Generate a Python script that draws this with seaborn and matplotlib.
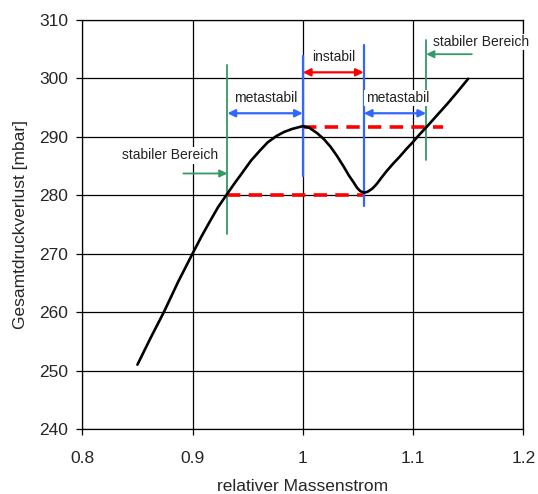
import matplotlib
matplotlib.use("Agg")
import matplotlib.pyplot as plt
import seaborn as sns
import pandas as pd

# --- data ---
mass_flow = [0.850, 0.862, 0.874, 0.887, 0.900, 0.908, 0.916, 0.923, 0.931,
             0.938, 0.945, 0.953, 0.961, 0.968, 0.976, 0.983, 0.990, 1.000,
             1.006, 1.013, 1.019, 1.025, 1.031, 1.037, 1.042, 1.046, 1.049,
             1.052, 1.0555, 1.059, 1.063, 1.067, 1.071, 1.076, 1.082, 1.088,
             1.094, 1.100, 1.106, 1.1125, 1.121, 1.131, 1.140, 1.150]
pressure_loss = [251.0, 255.6, 260.0, 265.2, 270.0, 272.9, 275.6, 277.9, 280.1,
                 282.0, 283.8, 285.9, 287.6, 289.0, 290.1, 290.8, 291.3, 291.8,
                 291.5, 290.6, 289.6, 288.3, 286.7, 284.9, 283.3, 282.2, 281.3,
                 280.7, 280.4, 280.6, 281.1, 281.9, 282.9, 284.1, 285.4, 286.6,
                 287.9, 289.1, 290.4, 291.7, 293.5, 295.6, 297.6, 299.9]

x_ticks = [0.8, 0.9, 1.0, 1.1, 1.2]
x_tick_labels = ["0.8", "0.9", "1", "1.1", "1.2"]
y_ticks = [240, 250, 260, 270, 280, 290, 300, 310]

# boundaries of the regions
x_stable_left = 0.9316
x_peak = 1.0
x_dip = 1.0553
x_stable_right = 1.1119
p_peak = 291.7
p_dip = 280.0
x_peak_level_end = 1.127

df = pd.DataFrame({"x": mass_flow, "y": pressure_loss})

sns.set_style("ticks")
plt.rcParams["font.family"] = ["Liberation Sans", "DejaVu Sans"]

fig, ax = plt.subplots(figsize=(5.38, 4.94), dpi=100)
fig.subplots_adjust(left=0.1530, right=0.9727, top=0.9601, bottom=0.1316)

ax.set_xlim(0.8, 1.2)
ax.set_ylim(240, 310)
ax.set_xticks(x_ticks)
ax.set_xticklabels(x_tick_labels)
ax.set_yticks(y_ticks)
ax.grid(True, color="black", lw=0.9)
ax.set_axisbelow(True)
for s in ax.spines.values():
    s.set_color("black")
    s.set_linewidth(0.9)
ax.tick_params(axis="both", labelsize=12.5, length=4, width=0.9, color="black", pad=6)
ax.tick_params(axis="x", pad=12)

blue = "#3366FF"
green = "#339966"
red = "#FF0000"

# red dashed level lines
ax.plot([x_peak, x_peak_level_end], [p_peak, p_peak], color=red, lw=2.6,
        dashes=(3.7, 2.3), zorder=3)
ax.plot([x_stable_left, x_dip], [p_dip, p_dip], color=red, lw=2.6,
        dashes=(3.7, 2.3), zorder=3)

# vertical marker lines
ax.plot([x_peak, x_peak], [283.2, 303.8], color=blue, lw=1.6, zorder=4)
ax.plot([x_dip, x_dip], [278.2, 305.6], color=blue, lw=1.6, zorder=4)
ax.plot([x_stable_left, x_stable_left], [273.4, 302.2], color=green, lw=1.3, zorder=4)
ax.plot([x_stable_right, x_stable_right], [286.0, 306.6], color=green, lw=1.3, zorder=4)

# curve
sns.lineplot(data=df, x="x", y="y", ax=ax, color="black", lw=1.9, sort=False,
             zorder=5)

# arrows
dbl = "<|-|>,head_length=0.45,head_width=0.22"
sgl = "-|>,head_length=0.45,head_width=0.22"
ax.annotate("", xy=(x_peak, 301.0), xytext=(x_dip, 301.0),
            arrowprops=dict(arrowstyle=dbl, color=red, lw=1.6, shrinkA=0, shrinkB=0))
ax.annotate("", xy=(x_stable_left, 294.0), xytext=(x_peak, 294.0),
            arrowprops=dict(arrowstyle=dbl, color=blue, lw=1.6, shrinkA=0, shrinkB=0))
ax.annotate("", xy=(x_dip, 294.0), xytext=(x_stable_right, 294.0),
            arrowprops=dict(arrowstyle=dbl, color=blue, lw=1.6, shrinkA=0, shrinkB=0))
ax.annotate("", xy=(x_stable_left, 283.7), xytext=(0.8917, 283.7),
            arrowprops=dict(arrowstyle=sgl, color=green, lw=1.3, shrinkA=0, shrinkB=0))
ax.annotate("", xy=(x_stable_right, 304.1), xytext=(1.1533, 304.1),
            arrowprops=dict(arrowstyle=sgl, color=green, lw=1.3, shrinkA=0, shrinkB=0))

# labels
box = dict(facecolor="white", edgecolor="none", pad=1.0)
ax.text(1.0278, 303.7, "instabil", ha="center", va="center", fontsize=10,
        color="#222222", bbox=box, zorder=6)
ax.text(0.9664, 296.6, "metastabil", ha="center", va="center", fontsize=10,
        color="#222222", bbox=box, zorder=6)
ax.text(1.0858, 296.6, "metastabil", ha="center", va="center", fontsize=10,
        color="#222222", bbox=box, zorder=6)
ax.text(0.8796, 286.8, "stabiler Bereich", ha="center", va="center", fontsize=10,
        color="#222222", bbox=box, zorder=6)
ax.text(1.118, 306.2, "stabiler Bereich", ha="left", va="center", fontsize=10,
        color="#222222", bbox=box, zorder=6, clip_on=False)

ax.set_xlabel("relativer Massenstrom", fontsize=12.5, labelpad=9)
ax.set_ylabel("Gesamtdruckverlust [mbar]", fontsize=12.5, labelpad=8)

fig.savefig("out.png", dpi=100)
